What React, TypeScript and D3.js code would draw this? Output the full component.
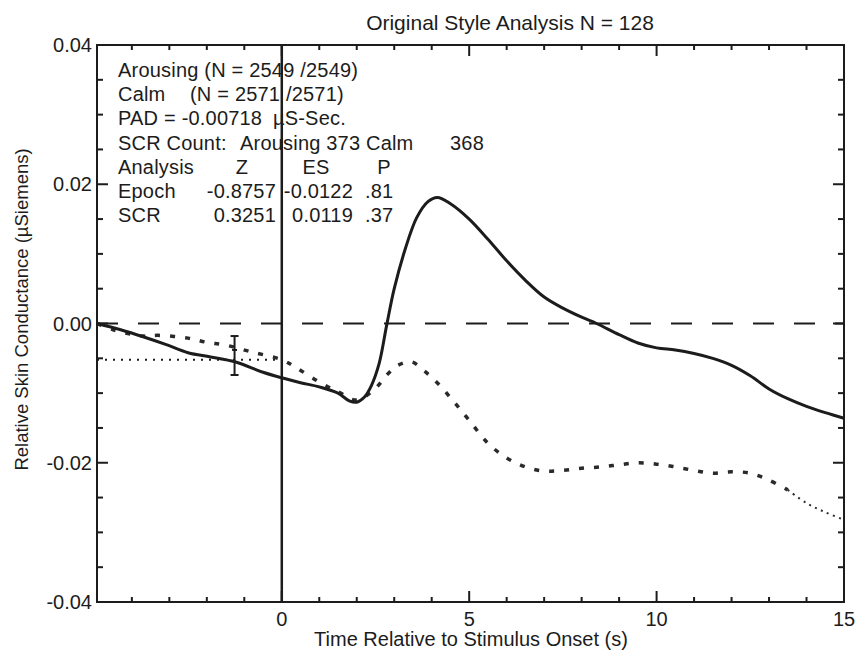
import * as d3 from "d3";

// seconds relative to stimulus onset
const timeArousing = [-4.93, -4.3, -3.7, -3.1, -2.5, -1.9, -1.25, -0.5, 0, 0.5, 1, 1.5, 1.8, 2, 2.2, 2.4, 2.6, 2.8, 3, 3.3, 3.6, 3.9, 4.15, 4.5, 5, 5.5, 6, 6.5, 7, 7.5, 8, 8.4, 9, 9.5, 10, 10.5, 11, 11.5, 12, 12.5, 13, 13.5, 14, 14.5, 15];
const arousing = [0, -0.0009, -0.0019, -0.003, -0.0042, -0.0048, -0.0055, -0.007, -0.0078, -0.0085, -0.0091, -0.01, -0.0111, -0.0113, -0.0106, -0.0088, -0.0057, -0.0002, 0.005, 0.0108, 0.0152, 0.0175, 0.0181, 0.0172, 0.015, 0.0121, 0.009, 0.0062, 0.0038, 0.0022, 0.0009, 0, -0.0016, -0.0028, -0.0035, -0.0038, -0.0043, -0.005, -0.006, -0.0075, -0.0094, -0.0108, -0.0119, -0.0128, -0.0136];

const timeCalm = [-4.93, -4.5, -3.7, -3.3, -2.5, -2, -1.5, -0.8, 0, 0.4, 1, 1.5, 2, 2.5, 2.8, 3.1, 3.45, 3.8, 4.2, 4.6, 5, 5.5, 6, 6.5, 7, 7.5, 8, 8.5, 9, 9.5, 10, 10.5, 11, 11.5, 12, 12.5, 13, 13.5, 14, 14.5, 15];
const calm = [0, -0.0009, -0.0018, -0.0017, -0.0021, -0.0027, -0.0031, -0.0041, -0.0052, -0.0064, -0.0084, -0.0098, -0.011, -0.0093, -0.0074, -0.006, -0.0055, -0.0068, -0.0088, -0.0113, -0.0139, -0.0172, -0.0193, -0.0206, -0.0212, -0.0211, -0.0208, -0.0206, -0.0203, -0.02, -0.0202, -0.0206, -0.0211, -0.0215, -0.0213, -0.0215, -0.0225, -0.0239, -0.0258, -0.0271, -0.0282];

// baseline mean and its error bar
const baselineLevel = -0.0052;
const errorBarTime = -1.26;
const errorBarRange = [-0.0074, -0.0018];
const errorBarMark = -0.0038;

const xTickLabels = [0, 5, 10, 15];
const yTickLabels = [-0.04, -0.02, 0, 0.02, 0.04];

const title = "Original Style Analysis  N = 128";
const xTitle = "Time Relative to Stimulus Onset (s)";
const yTitle = "Relative Skin Conductance (\u00b5Siemens)";

const countLines = [
	["Arousing (N = 2549 /2549)"],
	["Calm", "(N = 2571 /2571)"],
	["PAD = -0.00718", "\u00b5S-Sec."],
	["SCR Count:", "Arousing 373", "Calm", "368"],
];
const statHeader = ["Analysis", "Z", "ES", "P"];
const statRows = [
	["Epoch", "-0.8757", "-0.0122", ".81"],
	["SCR", "0.3251", "0.0119", ".37"],
];

const W = 859;
const H = 655;
const left = 97;
const right = 844;
const top = 45;
const bottom = 602;
const font = "'Liberation Sans', Arial, sans-serif";
const ink = "#1c1c1c";

// hyphen minus like the original plot, not the unicode minus d3 uses
const fmtY = (v: number) => (v < 0 ? "-" : "") + Math.abs(v).toFixed(2);

export default function App() {
	const x = d3.scaleLinear().domain([-4.93, 15]).range([left, right]);
	const y = d3.scaleLinear().domain([-0.04, 0.04]).range([bottom, top]);

	const line = d3
		.line<[number, number]>()
		.x((d) => x(d[0]))
		.y((d) => y(d[1]))
		.curve(d3.curveCatmullRom.alpha(0.5));

	const arousingPts = timeArousing.map((t, i) => [t, arousing[i]] as [number, number]);
	const calmPts = timeCalm.map((t, i) => [t, calm[i]] as [number, number]);
	const tailStart = 13.5;
	const calmHead = calmPts.filter((d) => d[0] <= tailStart);
	const calmTail = calmPts.filter((d) => d[0] >= tailStart);

	const xMinor = d3.range(-4, 15, 1).filter((t) => t % 5 !== 0);
	const yMinor = d3.range(-0.035, 0.04, 0.005).filter((v) => Math.abs(Math.round(v * 1000) % 20) !== 0);

	const lineH = 24.2;
	const textTop = 77;
	const textStyle = { fontFamily: font, fontSize: 20, letterSpacing: 0.2, fill: ink };
	const countX = [
		[118],
		[118, 190],
		[118, 273],
		[118, 240, 366, 450],
	];
	const headerX = [118, 242, 316, 384];
	const headerAnchor = ["start", "middle", "middle", "middle"];
	const rowX = [118, 276, 353, 365];
	const rowAnchor = ["start", "end", "end", "start"];

	return (
		<svg width={W} height={H} style={{ position: "absolute", left: 0, top: 0, background: "#fff" }}>
			<rect width={W} height={H} fill="#fff" />
			<text x={510} y={30} textAnchor="middle" fontFamily={font} fontSize={21} fill={ink}>
				{title}
			</text>

			{/* info block */}
			<g style={textStyle as any}>
				{countLines.map((parts, i) =>
					parts.map((p, j) => (
						<text key={`c${i}-${j}`} x={countX[i][j]} y={textTop + i * lineH}>
							{p}
						</text>
					))
				)}
				{statHeader.map((p, j) => (
					<text key={`h${j}`} x={headerX[j]} y={textTop + 4 * lineH} textAnchor={headerAnchor[j]}>
						{p}
					</text>
				))}
				{statRows.map((row, i) =>
					row.map((p, j) => (
						<text key={`r${i}-${j}`} x={rowX[j]} y={textTop + (5 + i) * lineH} textAnchor={rowAnchor[j]}>
							{p}
						</text>
					))
				)}
			</g>

			{/* zero reference and stimulus onset */}
			<line x1={left} x2={right} y1={y(0)} y2={y(0)} stroke={ink} strokeWidth={2} strokeDasharray="21,20" />
			<line x1={x(0)} x2={x(0)} y1={top} y2={bottom} stroke={ink} strokeWidth={2.5} />
			<line
				x1={left}
				x2={x(0)}
				y1={y(baselineLevel)}
				y2={y(baselineLevel)}
				stroke={ink}
				strokeWidth={2}
				strokeDasharray="2,6"
			/>

			{/* curves */}
			<path d={line(calmHead) ?? ""} fill="none" stroke="#2a2a2a" strokeWidth={3.5} strokeDasharray="5,10" />
			<path d={line(calmTail) ?? ""} fill="none" stroke="#2a2a2a" strokeWidth={2} strokeDasharray="2,4.5" />
			<path d={line(arousingPts) ?? ""} fill="none" stroke={ink} strokeWidth={3} />

			{/* error bar */}
			<g stroke={ink} strokeWidth={2}>
				<line x1={x(errorBarTime)} x2={x(errorBarTime)} y1={y(errorBarRange[0])} y2={y(errorBarRange[1])} />
				<line x1={x(errorBarTime) - 4} x2={x(errorBarTime) + 4} y1={y(errorBarRange[0])} y2={y(errorBarRange[0])} />
				<line x1={x(errorBarTime) - 4} x2={x(errorBarTime) + 4} y1={y(errorBarRange[1])} y2={y(errorBarRange[1])} />
				<line x1={x(errorBarTime) - 2.5} x2={x(errorBarTime) + 2.5} y1={y(errorBarMark)} y2={y(errorBarMark)} />
			</g>

			{/* frame and ticks */}
			<rect x={left} y={top} width={right - left} height={bottom - top} fill="none" stroke={ink} strokeWidth={2} />
			<g stroke={ink} strokeWidth={2}>
				{xMinor.map((t) => (
					<g key={`xm${t}`}>
						<line x1={x(t)} x2={x(t)} y1={bottom} y2={bottom - 5} />
						<line x1={x(t)} x2={x(t)} y1={top} y2={top + 5} />
					</g>
				))}
				{xTickLabels.map((t) => (
					<g key={`xM${t}`}>
						<line x1={x(t)} x2={x(t)} y1={bottom} y2={bottom - 11} />
						<line x1={x(t)} x2={x(t)} y1={top} y2={top + 11} />
					</g>
				))}
				{yMinor.map((v) => (
					<g key={`ym${v}`}>
						<line x1={left} x2={left + 6} y1={y(v)} y2={y(v)} />
						<line x1={right} x2={right - 6} y1={y(v)} y2={y(v)} />
					</g>
				))}
				{yTickLabels.map((v) => (
					<g key={`yM${v}`}>
						<line x1={left} x2={left + 11} y1={y(v)} y2={y(v)} />
						<line x1={right} x2={right - 11} y1={y(v)} y2={y(v)} />
					</g>
				))}
			</g>

			{xTickLabels.map((t) => (
				<text key={`xl${t}`} x={x(t)} y={626} textAnchor="middle" fontFamily={font} fontSize={20} fill={ink}>
					{t}
				</text>
			))}
			{yTickLabels.map((v) => (
				<text key={`yl${v}`} x={92} y={y(v) + 7} textAnchor="end" fontFamily={font} fontSize={20} fill={ink}>
					{fmtY(v)}
				</text>
			))}

			<text x={471} y={646} textAnchor="middle" fontFamily={font} fontSize={20} fill={ink}>
				{xTitle}
			</text>
			<text
				transform={`translate(28,${(top + bottom) / 2 - 14}) rotate(-90)`}
				textAnchor="middle"
				fontFamily={font}
				fontSize={18.5}
				fill={ink}
			>
				{yTitle}
			</text>
		</svg>
	);
}
